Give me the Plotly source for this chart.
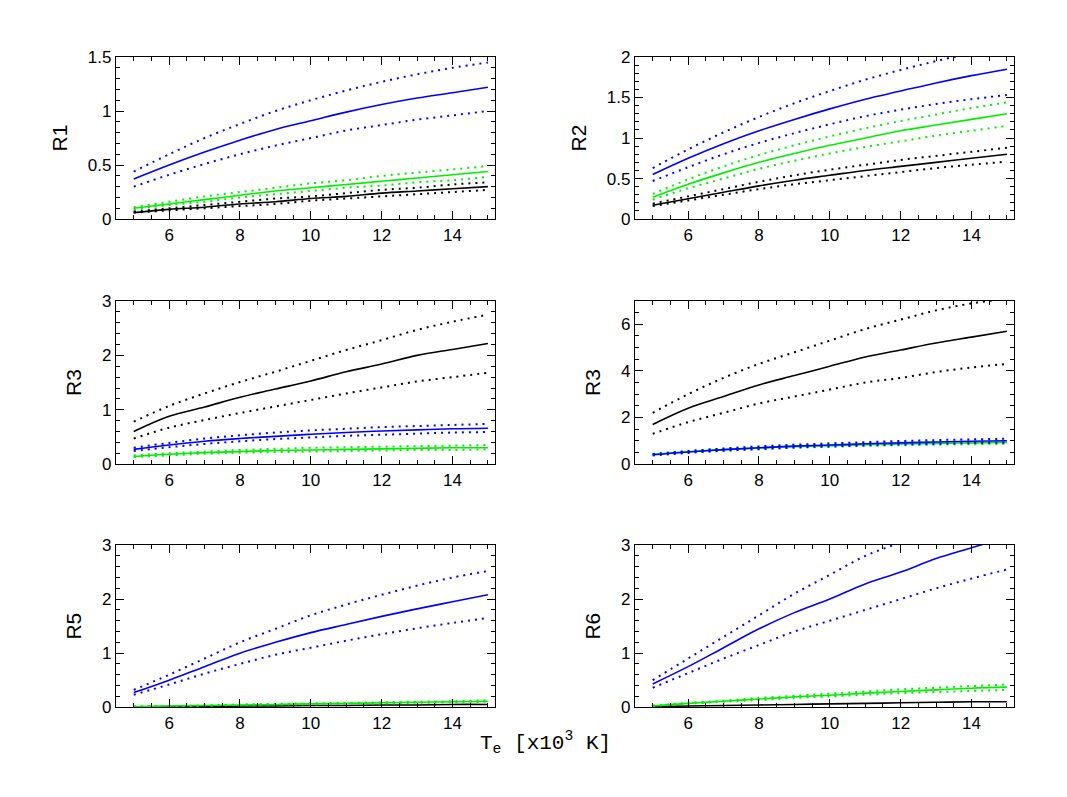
import plotly.graph_objects as go

te = [5, 6, 7, 8, 9, 10, 11, 12, 13, 14, 15]

# panel 1 (R1)
r1_blue = [0.37,0.50,0.62,0.73,0.83,0.91,0.99,1.06,1.12,1.17,1.22]
r1_blue_hi = [0.44,0.60,0.75,0.88,1.00,1.10,1.19,1.27,1.34,1.40,1.45]
r1_blue_lo = [0.30,0.41,0.51,0.60,0.68,0.75,0.82,0.87,0.92,0.96,1.00]
r1_green = [0.10,0.14,0.18,0.22,0.26,0.29,0.32,0.35,0.38,0.41,0.44]
r1_green_hi = [0.11,0.16,0.21,0.25,0.29,0.33,0.36,0.40,0.43,0.46,0.49]
r1_green_lo = [0.09,0.13,0.16,0.20,0.23,0.26,0.29,0.31,0.34,0.36,0.39]
r1_black = [0.06,0.09,0.11,0.14,0.16,0.19,0.21,0.24,0.26,0.28,0.30]
r1_black_hi = [0.07,0.10,0.13,0.16,0.19,0.21,0.24,0.27,0.29,0.32,0.34]
r1_black_lo = [0.06,0.08,0.10,0.12,0.14,0.17,0.19,0.21,0.23,0.25,0.27]

# panel 2 (R2)
r2_blue = [0.55,0.75,0.93,1.09,1.23,1.36,1.48,1.58,1.68,1.77,1.85]
r2_blue_hi = [0.63,0.86,1.07,1.26,1.43,1.58,1.72,1.84,1.95,2.05,2.14]
r2_blue_lo = [0.47,0.64,0.80,0.94,1.06,1.17,1.27,1.35,1.42,1.48,1.53]
r2_green = [0.27,0.43,0.57,0.70,0.81,0.91,1.00,1.09,1.16,1.23,1.30]
r2_green_hi = [0.31,0.49,0.65,0.79,0.91,1.02,1.12,1.21,1.29,1.37,1.44]
r2_green_lo = [0.24,0.38,0.50,0.62,0.72,0.81,0.89,0.96,1.03,1.09,1.15]
r2_black = [0.17,0.25,0.33,0.41,0.48,0.54,0.60,0.65,0.70,0.75,0.80]
r2_black_hi = [0.19,0.28,0.37,0.46,0.54,0.61,0.67,0.73,0.78,0.83,0.88]
r2_black_lo = [0.16,0.23,0.30,0.37,0.43,0.48,0.53,0.58,0.63,0.67,0.71]

# panel 3 (R3, left)
r3_black = [0.60,0.88,1.05,1.23,1.38,1.53,1.70,1.84,2.00,2.11,2.22]
r3_black_hi = [0.78,1.07,1.30,1.51,1.70,1.90,2.10,2.28,2.47,2.62,2.75]
r3_black_lo = [0.47,0.67,0.81,0.94,1.06,1.18,1.30,1.41,1.52,1.60,1.68]
r3_blue = [0.27,0.35,0.42,0.47,0.51,0.55,0.58,0.61,0.63,0.65,0.66]
r3_blue_hi = [0.30,0.39,0.47,0.53,0.58,0.62,0.65,0.68,0.70,0.72,0.74]
r3_blue_lo = [0.24,0.31,0.37,0.42,0.46,0.49,0.52,0.54,0.56,0.58,0.59]
r3_green = [0.14,0.18,0.21,0.23,0.25,0.26,0.27,0.28,0.29,0.30,0.30]
r3_green_hi = [0.16,0.20,0.23,0.26,0.28,0.30,0.31,0.32,0.33,0.34,0.35]
r3_green_lo = [0.13,0.16,0.19,0.21,0.22,0.23,0.24,0.25,0.26,0.26,0.27]

# panel 4 (R3, right)
r4_black = [1.70,2.40,2.90,3.40,3.80,4.20,4.60,4.90,5.20,5.45,5.70]
r4_black_hi = [2.20,3.00,3.70,4.30,4.80,5.30,5.80,6.20,6.60,6.90,7.10]
r4_black_lo = [1.30,1.80,2.20,2.60,2.90,3.20,3.50,3.70,3.95,4.15,4.30]
r4_blue = [0.40,0.52,0.62,0.70,0.77,0.82,0.87,0.91,0.95,0.98,1.00]
r4_blue_hi = [0.43,0.56,0.67,0.76,0.83,0.89,0.94,0.99,1.03,1.06,1.09]
r4_blue_lo = [0.37,0.48,0.57,0.64,0.71,0.76,0.80,0.84,0.87,0.90,0.92]
r4_green = [0.42,0.53,0.62,0.69,0.75,0.79,0.83,0.86,0.89,0.91,0.93]
r4_green_hi = [0.44,0.56,0.66,0.73,0.80,0.84,0.88,0.92,0.95,0.97,0.99]
r4_green_lo = [0.40,0.50,0.58,0.65,0.70,0.74,0.78,0.81,0.83,0.85,0.87]

# panel 5 (R5)
r5_blue = [0.27,0.50,0.75,1.00,1.20,1.38,1.53,1.68,1.82,1.95,2.08]
r5_blue_hi = [0.32,0.60,0.90,1.20,1.45,1.70,1.90,2.08,2.25,2.40,2.52]
r5_blue_lo = [0.23,0.42,0.62,0.80,0.97,1.10,1.23,1.35,1.46,1.56,1.65]
r5_green = [0.01,0.02,0.03,0.04,0.05,0.06,0.07,0.08,0.09,0.10,0.11]
r5_green_hi = [0.01,0.02,0.03,0.05,0.06,0.07,0.08,0.09,0.10,0.11,0.13]
r5_green_lo = [0.01,0.02,0.03,0.04,0.05,0.05,0.06,0.07,0.08,0.09,0.10]
r5_black = [0.00,0.01,0.01,0.02,0.02,0.03,0.03,0.04,0.04,0.05,0.05]

# panel 6 (R6)
r6_blue = [0.43,0.75,1.10,1.45,1.75,2.00,2.28,2.50,2.75,2.95,3.15]
r6_blue_hi = [0.50,0.90,1.30,1.70,2.10,2.45,2.80,3.05,3.30,3.50,3.70]
r6_blue_lo = [0.36,0.63,0.90,1.15,1.40,1.60,1.80,2.00,2.20,2.38,2.55]
r6_green = [0.02,0.07,0.11,0.15,0.19,0.22,0.26,0.29,0.32,0.35,0.37]
r6_green_hi = [0.03,0.08,0.12,0.17,0.21,0.25,0.29,0.33,0.36,0.39,0.42]
r6_green_lo = [0.02,0.06,0.10,0.13,0.17,0.20,0.23,0.26,0.28,0.30,0.32]
r6_black = [0.01,0.02,0.03,0.04,0.05,0.06,0.07,0.08,0.09,0.10,0.10]

BLUE, GREEN, BLACK = "#0000ff", "#00ee00", "#000000"

panels = [
    dict(label="R1", yr=[0, 1.5], dt=0.5, mt=0.1, series=[
        (BLUE, r1_blue, r1_blue_hi, r1_blue_lo), (GREEN, r1_green, r1_green_hi, r1_green_lo),
        (BLACK, r1_black, r1_black_hi, r1_black_lo)]),
    dict(label="R2", yr=[0, 2], dt=0.5, mt=0.1, series=[
        (BLUE, r2_blue, r2_blue_hi, r2_blue_lo), (GREEN, r2_green, r2_green_hi, r2_green_lo),
        (BLACK, r2_black, r2_black_hi, r2_black_lo)]),
    dict(label="R3", yr=[0, 3], dt=1, mt=0.2, series=[
        (BLACK, r3_black, r3_black_hi, r3_black_lo), (BLUE, r3_blue, r3_blue_hi, r3_blue_lo),
        (GREEN, r3_green, r3_green_hi, r3_green_lo)]),
    dict(label="R3", yr=[0, 7], dt=2, mt=0.5, series=[
        (BLACK, r4_black, r4_black_hi, r4_black_lo), (GREEN, r4_green, r4_green_hi, r4_green_lo),
        (BLUE, r4_blue, r4_blue_hi, r4_blue_lo)]),
    dict(label="R5", yr=[0, 3], dt=1, mt=0.2, series=[
        (BLUE, r5_blue, r5_blue_hi, r5_blue_lo), (BLACK, r5_black, None, None),
        (GREEN, r5_green, r5_green_hi, r5_green_lo)]),
    dict(label="R6", yr=[0, 3], dt=1, mt=0.2, series=[
        (BLUE, r6_blue, r6_blue_hi, r6_blue_lo), (BLACK, r6_black, None, None),
        (GREEN, r6_green, r6_green_hi, r6_green_lo)]),
]

W, H = 1067, 797
xdoms = [(108 / W, 487 / W), (627 / W, 1006 / W)]
ydoms = [(1 - 207 / H, 1 - 41 / H), (1 - 458 / H, 1 - 291 / H), (1 - 707 / H, 1 - 541 / H)]

fig = go.Figure()
FONT = "Liberation Sans"
for i, p in enumerate(panels):
    n = i + 1
    xa, ya = f"x{n}", f"y{n}"
    for color, mid, hi, lo in p["series"]:
        for vals, dash in ((hi, "2px,5px"), (lo, "2px,5px"), (mid, "solid")):
            if vals is None:
                continue
            fig.add_trace(go.Scatter(x=te, y=vals, mode="lines", xaxis=xa, yaxis=ya,
                                     line=dict(color=color, width=1.6 if dash == "solid" else 2,
                                               dash=dash, shape="spline"),
                                     showlegend=False, hoverinfo="skip"))
    r, c = divmod(i, 2)
    common = dict(showline=True, mirror="ticks", linecolor="black", linewidth=1.2,
                  ticks="inside", ticklen=8, tickcolor="black", showgrid=False,
                  zeroline=False, tickfont=dict(family=FONT, size=17, color="black"))
    fig.layout[f"xaxis{n}"] = dict(domain=xdoms[c], anchor=ya, range=[4.5, 15.2],
                                   tick0=6, dtick=2, minor=dict(ticks="inside", ticklen=4,
                                   dtick=0.5, tick0=5, tickcolor="black"), **common)
    fig.layout[f"yaxis{n}"] = dict(domain=ydoms[r], anchor=xa, range=p["yr"], dtick=p["dt"],
                                   minor=dict(ticks="inside", ticklen=4, dtick=p["mt"],
                                              tickcolor="black"),
                                   title=dict(text=p["label"], standoff=14,
                                              font=dict(family=FONT, size=21, color="black")),
                                   **common)

fig.add_annotation(text="T<sub>e</sub> [x10<sup>3</sup> K]", xref="paper", yref="paper",
                   x=537 / W, y=1 - 760 / H, showarrow=False,
                   font=dict(family="Liberation Mono", size=21, color="black"))
fig.update_layout(width=W, height=H, margin=dict(l=0, r=0, t=0, b=0),
                  plot_bgcolor="white", paper_bgcolor="white",
                  font=dict(family=FONT, size=17, color="black"))
fig.write_html("out.html")
